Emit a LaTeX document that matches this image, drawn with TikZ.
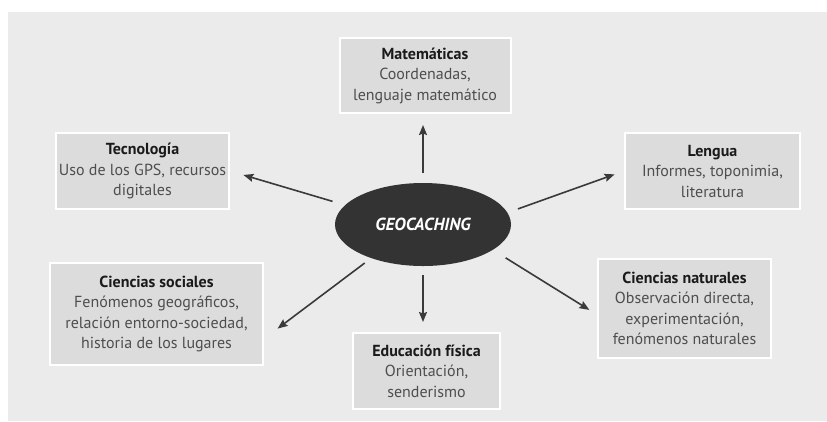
\documentclass[tikz,border=0pt]{standalone}
\usepackage{fontspec}
\setmainfont{PT Sans}
\usetikzlibrary{shapes.geometric,arrows.meta}
\definecolor{bggray}{HTML}{EBEBEB}
\definecolor{boxgray}{HTML}{DCDCDC}
\definecolor{ellfill}{HTML}{333333}
\definecolor{titlec}{HTML}{1A1A1A}
\definecolor{bodyc}{HTML}{4E4E4E}
\definecolor{arrc}{HTML}{3A3A3A}
\newcommand{\ttl}[1]{{\bfseries\color{titlec}#1}}
\begin{document}
\begin{tikzpicture}[x=1bp,y=-1bp,
  box/.style={fill=boxgray,draw=white,line width=2bp,align=center,inner sep=0pt,
    font=\fontsize{16bp}{20.5bp}\selectfont,text=bodyc},
  hub/.style={ellipse,fill=ellfill,draw=none,inner sep=0pt,text=white,
    font=\fontsize{17.5bp}{20bp}\selectfont\bfseries\itshape},
  arr/.style={draw=arrc,line width=1.6bp,-{Stealth[length=10bp,width=8bp,inset=1.5bp]}}]
\useasboundingbox (0,0) rectangle (827,421);
\fill[white] (0,0) rectangle (827,421);
\fill[bggray] (8,12) rectangle (827,421);

\node[hub,minimum width=176bp,minimum height=83bp] (geo) at (423,224.5) {GEOCACHING};

\node[box,minimum width=171bp,minimum height=75bp] (mat) at (425,75.5)
  {\ttl{Matemáticas}\\Coordenadas,\\lenguaje matemático};
\node[box,minimum width=173bp,minimum height=76bp] (tec) at (142.5,171)
  {\ttl{Tecnología}\\Uso de los GPS, recursos\\digitales};
\node[box,minimum width=175bp,minimum height=76bp] (len) at (712.5,171)
  {\ttl{Lengua}\\Informes, toponimia,\\literatura};
\node[box,minimum width=213bp,minimum height=102bp] (soc) at (156.5,314)
  {\ttl{Ciencias sociales}\\Fenómenos geográficos,\\relación entorno-sociedad,\\historia de los lugares};
\node[box,minimum width=173bp,minimum height=99bp] (nat) at (684.5,308.5)
  {\ttl{Ciencias naturales}\\Observación directa,\\experimentación,\\fenómenos naturales};
\node[box,minimum width=147bp,minimum height=76bp] (edu) at (426.5,371)
  {\ttl{Educación física}\\Orientación,\\senderismo};

\draw[arr,shorten <=10bp,shorten >=11bp] (geo.north) -- (geo.north |- mat.south);
\draw[arr,shorten <=9bp,shorten >=10bp] (geo.south) -- (geo.south |- edu.north);
\draw[arr,shorten <=13bp,shorten >=14bp] (geo.166) -- (tec.east);
\draw[arr,shorten <=11bp,shorten >=10bp] (geo.8) -- (len.west);
\draw[arr,shorten <=8bp,shorten >=17bp] (geo.213) -- (soc.-13.5);
\draw[arr,shorten <=15bp,shorten >=9bp] (geo.-20) -- (nat.184);
\end{tikzpicture}
\end{document}
